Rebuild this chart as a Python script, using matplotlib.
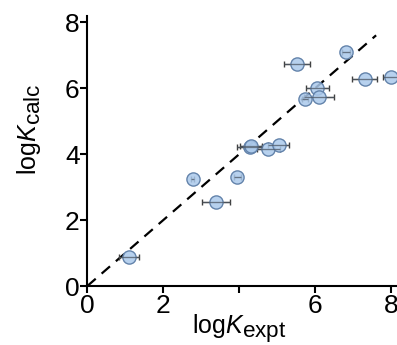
import numpy as np
import matplotlib
matplotlib.use("Agg")
import matplotlib.pyplot as plt
import matplotlib._mathtext as mtext

# subscripts in the original are nearly full size
mtext.SHRINK_FACTOR = 0.9

plt.rcParams["font.family"] = ["Liberation Sans", "DejaVu Sans"]
plt.rcParams["mathtext.fontset"] = "custom"
plt.rcParams["mathtext.rm"] = "Liberation Sans"
plt.rcParams["mathtext.it"] = "Liberation Sans:italic"

# experimental vs calculated log K, with x error
logk_expt = [1.10, 2.77, 3.39, 3.95, 4.27, 4.31, 4.76, 5.04, 5.51, 5.74, 6.05, 6.09, 6.80, 7.30, 8.00]
logk_calc = [0.87, 3.24, 2.55, 3.31, 4.22, 4.24, 4.15, 4.26, 6.73, 5.66, 5.99, 5.72, 7.10, 6.27, 6.33]
xerr = [0.27, 0.05, 0.37, 0.10, 0.33, 0.30, 0.30, 0.28, 0.34, 0.08, 0.30, 0.39, 0.10, 0.33, 0.23]

xticks = [0, 2, 4, 6, 8]
xticklabels = ["0", "2", "", "6", "8"]
yticks = [0, 2, 4, 6, 8]

fig = plt.figure(figsize=(3.97, 3.45), dpi=100)
ax = fig.add_axes([0.22, 0.171, 0.78, 0.784])

ax.plot([0, 7.6], [0, 7.6], ls=(0, (5, 3.5)), color="black", lw=1.6, zorder=1)
ax.errorbar(logk_expt, logk_calc, xerr=xerr, fmt="o", ms=9.5,
            mfc=(0.67, 0.79, 0.92, 0.85), mec="#6383ab", mew=1.0,
            ecolor="#404040", elinewidth=1.0, capsize=2.5, capthick=1.0, zorder=2)
# error bar line visible through markers
ax.errorbar(logk_expt, logk_calc, xerr=xerr, fmt="none",
            ecolor="#505a66", elinewidth=0.9, capsize=0, zorder=3, alpha=0.7)

ax.set_xlim(0, 8.15)
ax.set_ylim(0, 8.2)
ax.set_xticks(xticks)
ax.set_xticklabels(xticklabels)
ax.set_yticks(yticks)
ax.tick_params(labelsize=19, width=1.5, length=5, pad=0.5)
for s in ["top", "right"]:
    ax.spines[s].set_visible(False)
for s in ["left", "bottom"]:
    ax.spines[s].set_linewidth(1.5)

ax.set_xlabel(r"log$\mathit{K}_{\mathrm{expt}}$", fontsize=18)
ax.set_ylabel(r"log$\mathit{K}_{\mathrm{calc}}$", fontsize=18)
ax.xaxis.set_label_coords(0.49, -0.098)
ax.yaxis.set_label_coords(-0.143, 0.58)

fig.savefig("out.png", dpi=100)
